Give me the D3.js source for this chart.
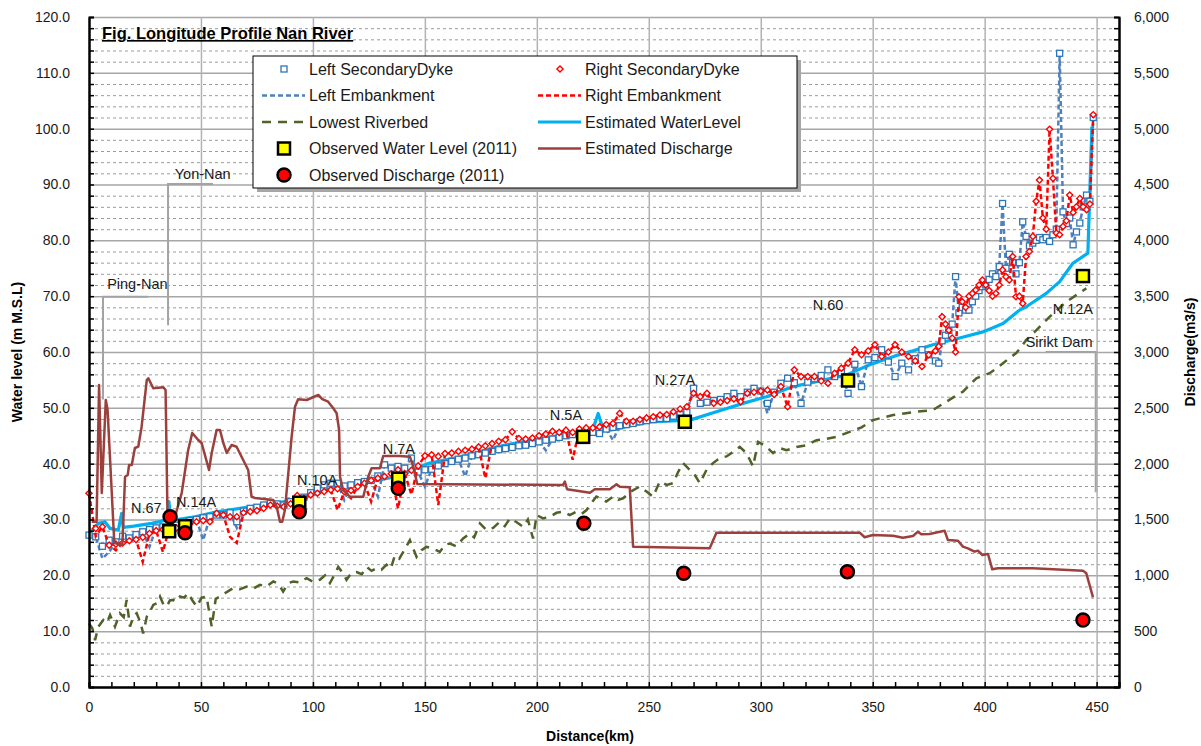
<!doctype html>
<html>
<head>
<meta charset="utf-8">
<script src="https://cdn.jsdelivr.net/npm/d3@7/dist/d3.min.js"></script>
<style>
  body { margin: 0; background: #fff; }
  svg { font-family: "Liberation Sans", Arial, sans-serif; }
  .tick text { fill: #1a1a1a; }
</style>
</head>
<body>
<svg width="1201" height="746"></svg>
<script>
// ---- data (km, m M.S.L / m3/s) ----
var dykeKm = [0,3,6,9,12,15,18,21,24,27,30,33,36,39,42,45,48,51,54,57,60,63,66,69,72,75,78,81,84,87,90,93,96,99,
  102,105,108,111,114,117,120,123,126,129,132,135,138,141,144,147,150,153,156,159,162,165,168,171,174,177,180,183,186,189,
  192,195,198,201,204,207,210,213,216,219,222,225,228,231,234,237,240,243,246,249,252,255,258,261,264,267,270,273,276,279,
  282,285,288,291,294,297,300,303,306,309,312,315,318,321,324,327,330,333,336,339,342,345,348,351,354,357,360,363,366,369,
  372,375,378,379.5,381,382.5,384,385.5,387,388.5,390,391.5,393,394.5,396,397.5,399,400.5,402,403.5,405,406.5,408,409.5,
  411,412.5,414,415.5,417,418.5,420,421.5,423,424.5,426,427.5,429,430.5,432,433.5,435,436.5,438,439.5,441,442.5,444,445.5,447,448.5];

var leftDyke = [27.2,26.9,25.2,26.3,26.0,27.0,26.7,27.3,27.8,28.2,28.5,28.7,29.0,29.0,29.0,29.8,30.0,30.3,30.5,30.8,30.8,31.2,29.6,31.5,
  32.0,32.2,32.6,32.9,32.8,32.6,33.2,33.5,34.0,34.8,35.6,36.2,36.5,36.5,36.0,36.2,36.6,36.8,37.0,37.8,39.8,39.2,39.5,39.2,41.0,38.5,
  38.9,39.0,39.6,40.0,40.4,40.8,41.0,41.4,41.6,41.9,42.2,42.5,42.7,42.9,43.2,43.3,43.6,43.9,44.2,44.4,44.7,45.0,45.2,45.3,45.4,45.6,
  45.4,46.2,46.5,46.8,47.0,47.2,47.5,47.7,47.9,48.1,48.1,48.5,48.8,49.2,53.5,50.8,51.0,51.3,51.5,52.0,52.6,52.0,52.8,53.5,53.0,50.8,
  52.8,54.4,55.3,54.5,50.8,54.6,55.2,55.8,56.8,55.6,56.3,52.6,57.8,53.8,58.6,59.0,60.4,58.2,55.6,58.0,56.8,58.8,60.4,59.5,58.4,
  58.0,62.0,63.0,63.9,65.0,73.5,67.0,68.0,67.5,67.5,69.0,70.0,71.0,71.7,72.0,73.0,74.0,73.5,75.3,86.6,75.0,77.5,76.0,74.0,76.0,
  83.3,80.7,79.0,79.5,80.0,80.5,80.1,80.5,79.8,81.0,82.0,113.5,85.1,83.0,84.0,79.2,81.5,83.1,86.0,88.1,87.0,102.0];

var rightDyke = [34.7,28.4,28.7,25.4,25.6,25.8,26.2,26.4,26.8,27.5,28.0,28.2,28.7,28.5,29.0,29.2,29.6,29.8,29.6,31.1,30.8,30.5,30.5,31.2,
  31.4,31.6,32.0,32.6,32.4,32.3,32.8,34.3,33.8,34.4,34.7,35.0,35.3,35.5,35.0,35.2,35.9,36.5,37.0,37.4,37.7,38.2,38.9,38.2,38.8,39.6,
  41.4,41.6,41.3,41.8,41.9,42.2,42.4,42.6,43.0,43.2,43.6,44.0,44.3,45.7,44.5,44.4,44.6,45.0,45.3,45.8,45.6,46.0,45.6,46.2,46.4,46.4,
  46.6,47.0,47.2,49.0,47.6,47.6,47.9,48.2,48.4,48.7,48.8,49.3,49.8,50.2,52.6,52.0,52.6,50.8,51.0,51.3,51.6,51.1,52.6,52.8,53.0,53.2,
  52.4,53.8,50.2,56.8,55.6,55.6,55.6,54.8,54.4,56.2,57.1,58.0,60.4,59.5,60.2,61.3,59.2,60.0,61.3,60.0,59.2,58.4,57.4,59.5,60.2,
  61.0,66.3,65.0,63.9,62.5,60.0,69.9,69.0,68.0,70.0,70.5,71.1,72.0,72.9,72.0,71.0,70.0,70.5,72.0,74.7,73.5,72.9,77.1,69.9,70.0,
  68.7,77.1,78.0,80.7,87.0,90.8,84.0,82.0,99.9,91.1,81.3,81.0,82.5,83.5,88.1,85.0,86.0,87.5,86.0,85.5,86.5,102.5];

var leftEmb = [27.2,26.9,23.0,24.2,26.0,27.0,26.7,27.3,27.8,25.1,28.5,28.7,29.0,29.0,29.0,29.8,30.0,26.3,30.5,30.8,30.8,31.2,28.5,31.5,
  32.0,32.2,32.6,32.9,32.8,32.6,33.2,33.5,34.0,34.8,35.6,36.2,36.5,36.5,33.5,36.2,36.6,36.8,37.0,34.1,39.8,39.2,39.5,39.2,41.0,38.5,
  35.9,39.0,39.6,40.0,40.4,40.8,37.7,41.4,41.6,41.9,42.2,42.5,42.7,42.9,43.2,43.3,43.6,43.9,42.4,44.4,44.7,45.0,45.2,45.3,45.4,45.6,
  45.4,46.2,44.2,46.8,47.0,47.2,47.5,47.7,47.9,48.1,48.1,48.5,48.8,49.2,53.5,50.8,51.0,51.3,51.5,52.0,52.6,52.0,52.8,53.5,53.0,49.0,
  52.8,54.4,55.3,54.5,50.8,54.6,55.2,55.8,56.8,55.6,56.3,52.6,57.8,53.8,58.6,59.0,60.4,58.2,55.6,58.0,56.8,58.8,60.4,59.5,58.4,
  58.0,62.0,63.0,63.9,65.0,73.5,67.0,68.0,67.5,67.5,69.0,70.0,71.0,71.7,72.0,73.0,74.0,73.5,75.3,86.6,75.0,77.5,76.0,74.0,76.0,
  83.3,80.7,79.0,79.5,80.0,80.5,80.1,80.5,79.8,81.0,82.0,113.5,85.1,83.0,84.0,79.2,81.5,83.1,86.0,88.1,87.0,102.0];

var rightEmb = [34.7,27.0,28.7,25.4,24.5,25.8,26.2,26.4,22.4,27.5,28.0,24.2,28.7,28.5,29.0,29.2,29.6,29.8,29.6,31.1,30.8,26.9,25.8,31.2,
  31.4,31.6,32.0,32.6,32.4,32.3,32.8,34.3,33.8,34.4,34.7,35.0,35.3,31.7,35.0,33.8,35.9,36.5,33.2,37.4,37.7,38.2,32.0,38.2,34.5,39.6,
  41.4,41.6,32.6,41.8,41.9,42.2,42.4,42.6,43.0,37.4,43.6,44.0,44.3,45.7,44.5,44.4,44.6,45.0,45.3,45.8,45.6,46.0,40.7,46.2,46.4,46.4,
  46.6,47.0,47.2,49.0,47.6,47.6,47.9,48.2,48.4,48.7,48.8,49.3,49.8,50.2,52.6,52.0,52.6,50.8,51.0,51.3,51.6,51.1,52.6,52.8,53.0,53.2,
  52.4,53.8,50.2,56.8,55.6,55.6,55.6,54.8,54.4,56.2,57.1,58.0,60.4,59.5,60.2,61.3,59.2,60.0,61.3,60.0,59.2,58.4,57.4,59.5,60.2,
  61.0,66.3,65.0,63.9,62.5,60.0,69.9,69.0,68.0,70.0,70.5,71.1,72.0,72.9,72.0,71.0,70.0,70.5,72.0,74.7,73.5,72.9,77.1,69.9,70.0,
  68.7,77.1,78.0,80.7,87.0,90.8,84.0,82.0,99.9,91.1,81.3,81.0,82.5,83.5,88.1,85.0,86.0,87.5,86.0,85.5,86.5,102.5];

var bedKm = [0,1.5,2.7,4.2,6.4,8,9.4,11.6,13.8,15.5,16.8,18.3,20,21.3,23,24.2,25.8,27.2,28.7,30.2,31.7,33.2,34.7,36.1,37.6,39,40.6,
  42.5,44.3,46.2,48.1,50.3,52.5,54.8,56.6,58.5,61.5,64.4,67.4,70.4,73.3,76.3,79.3,82.3,84.5,86.7,89,91.2,94.2,97.2,100.2,103.1,
  105.4,107.6,109.5,111.3,113.2,115,117.3,119.5,121.8,124,126.2,128.4,130.6,132.9,134.8,136.6,138.6,140.8,143.3,146.3,148.5,
  150.7,153.7,156.7,159,161.2,164,167.1,170,172,174.6,177.5,180.5,183.5,185.7,188,191,193.9,196,198.3,199.9,202.8,205.8,208.8,
  211.7,214.7,217.7,220,222.2,224.5,226.6,228.1,231,234.1,236.3,238.5,242,246,249,251.9,254.9,258,260.9,263.1,265.3,268.3,270.5,
  272.8,275.8,278.7,281.7,284.7,287.6,290.6,293.6,296.6,298.8,302,305.5,308.5,311.5,316,320.4,324.9,329,333.8,339.7,345,350.1,
  355,359.1,364,369.5,376.9,382.9,386.5,390.3,393.5,396.3,402.2,405,408.2,411,414.1,416.5,418.6,423.1,429,436.5,445.4];
var bedWL = [11.4,10.5,8.4,10.8,12.0,11.5,12.9,10.8,13.2,12.5,15.6,10.8,12.8,13.2,11.5,9.6,12.6,13.5,14.7,15.0,16.2,14.8,14.4,15.5,15.6,
  15.3,16.2,16.0,16.8,15.5,14.4,16.0,16.2,10.8,15.8,16.2,17.0,17.7,17.5,18.0,17.6,18.3,18.0,18.9,18.5,17.1,18.6,18.9,18.7,19.5,18.8,
  19.2,20.0,18.6,20.0,21.5,20.5,19.2,20.5,20.6,20.2,21.5,20.8,21.3,21.0,21.9,21.2,23.6,23.0,24.5,26.3,23.3,24.5,25.1,24.8,24.2,25.5,
  25.7,25.2,26.6,27.5,26.8,29.3,28.1,28.5,29.6,28.8,30.2,29.5,28.7,30.0,26.6,30.8,30.2,30.5,31.2,31.4,30.8,31.4,31.0,31.7,33.0,34.1,
  33.8,33.2,34.1,33.5,33.8,35.0,35.9,35.0,34.1,36.8,36.2,36.5,38.5,40.1,38.9,38.0,36.5,38.9,40.1,41.0,41.3,42.1,43.0,41.9,39.5,43.9,
  43.2,41.9,42.8,42.4,43.0,43.3,44.2,44.4,44.8,45.7,46.5,47.8,48.3,48.7,49.0,49.3,49.6,51.1,52.0,52.9,54.2,55.3,56.2,57.0,58.0,58.9,
  59.8,61.0,62.2,63.9,66.3,69.0,71.4];

var estKm = [0,4.2,7.1,9.4,13.1,14.6,15.3,20,28,34.7,35.7,36.5,47.3,57.7,72.6,87.5,102.4,109.8,122.5,137.4,152.2,167.1,182.0,196.9,
  211.7,223.7,225.3,227.4,229.5,232.6,250.4,268.3,280.2,292.1,302.5,314.4,324.9,338.3,348.7,360,368,376.9,388.8,399.2,408.2,
  415.6,418.6,427.5,433.5,439.4,446.1,447.9];
var estWL = [27.5,29.3,29.6,28.4,28.1,31.1,28.6,28.8,29.3,29.9,33.2,29.8,30.5,31.4,32.3,33.2,34.7,35.9,36.5,37.7,40.1,41.3,43.0,44.2,
  45.1,45.4,46.5,49.0,46.3,46.0,47.5,47.8,49.3,50.8,52.0,53.8,54.7,55.9,57.7,59.3,60.2,61.3,62.5,63.6,65.1,67.5,68.1,70.5,72.6,
  75.9,77.7,100.4];

var qKm = [1.2,3.4,4.5,5.7,7.5,8.3,11.3,14.9,16.1,17.3,17.9,19.1,20.5,22.0,23.5,25.8,26.5,28.7,33.2,34.2,35.1,36.2,37.6,41.4,44.3,
  46.1,48.8,50.3,53.6,54.8,57.0,58.5,60.0,61.5,63.7,65.9,71.1,72.6,74.1,82.3,83.8,85.3,86.3,87.5,90.5,92.0,93.4,97.2,102.4,104.2,
  106.8,109.1,110.6,111.7,112.1,113.5,116.5,122.5,124.7,126.2,129.9,131.4,138.8,143.3,144.8,146.6,211.7,212.5,213.5,223.7,225.9,
  232.6,235.6,237.1,241.5,243.0,277.2,280.2,344.2,346.4,350.1,359.1,363.5,368.0,370.2,371.7,375.4,382.1,383.6,388.1,390.3,392.5,
  395.5,397.0,399.0,401.5,403.4,405.9,421.6,443.9,445.4,448.4];
var qEst = [1480,1480,2705,1737,2570,2481,1290,1272,1883,1899,1988,1988,2140,2152,2331,2749,2765,2675,2684,2660,1480,1436,1469,1737,
  2123,2275,2212,2185,1943,2096,2302,2302,2185,2096,2167,2152,1943,1704,1693,1675,1615,1480,1480,1585,2242,2510,2577,2570,2615,2579,
  2555,2496,2451,2302,1883,1764,1704,1704,1883,1959,1959,2069,2069,2063,1973,1818,1809,1839,1771,1740,1771,1771,1815,1794,1789,
  1257,1242,1382,1382,1341,1361,1355,1337,1352,1391,1368,1370,1400,1316,1310,1257,1242,1212,1221,1182,1191,1054,1063,1063,1042,1018,803];

var obsKm = [35.8,42.9,93.9,138.1,220.7,266.1,339.0,443.9];
var obsWL = [27.9,28.8,33.0,37.3,44.8,47.5,54.9,73.6];
var obsQKm = [36.2,42.9,93.9,138.1,221.0,265.6,338.7,443.9];
var obsQ = [1525,1382,1570,1779,1466,1018,1033,600];

var stations = ["N.67","N.14A","N.10A","N.7A","N.5A","N.27A","N.60","N.12A"];
var yTicks = d3.range(0, 121, 10);
var qTicks = d3.range(0, 6001, 500);
var xTicks = d3.range(0, 451, 50);

// ---- layout ----
var svg = d3.select("svg");
var padL = 89, padR = 1119, padT = 17, padB = 687;
var x = d3.scaleLinear().domain([0, 460]).range([padL, padR]);
var y = d3.scaleLinear().domain([0, 120]).range([padB, padT]);
var y2 = d3.scaleLinear().domain([0, 6000]).range([padB, padT]);

// grid
svg.append("g").attr("transform", "translate(" + padL + ",0)")
  .call(d3.axisLeft(y).tickValues(d3.range(0, 121, 2).filter(function(d){ return d % 10; }))
    .tickSize(-(padR - padL)).tickFormat(""))
  .call(function(g){ g.select(".domain").remove();
    g.selectAll("line").attr("stroke", "#9c9c9c").attr("stroke-width", 1).attr("stroke-dasharray", "3,3"); });
svg.append("g").attr("transform", "translate(" + padL + ",0)")
  .call(d3.axisLeft(y).tickValues(yTicks).tickSize(-(padR - padL)).tickFormat(""))
  .call(function(g){ g.select(".domain").remove();
    g.selectAll("line").attr("stroke", "#a6a6a6").attr("stroke-width", 1.5); });
svg.append("g").attr("transform", "translate(0," + padB + ")")
  .call(d3.axisBottom(x).tickValues(xTicks.slice(1)).tickSize(-(padB - padT)).tickFormat(""))
  .call(function(g){ g.select(".domain").remove();
    g.selectAll("line").attr("stroke", "#b2b2b2").attr("stroke-width", 1.5); });

// annotation leaders (grey)
var leaders = [
  [[6.25, 51.5], [6.25, 69.9], [26.3, 69.9]],
  [[35.3, 64.8], [35.3, 90.1], [55.4, 90.1]],
  [[427.2, 60.0], [449.6, 60.0], [449.6, 34.9]]
];
var line = d3.line().x(function(d){ return x(d[0]); }).y(function(d){ return y(d[1]); });
svg.append("g").selectAll("path").data(leaders).enter().append("path")
  .attr("d", line).attr("fill", "none").attr("stroke", "#a3a3a3").attr("stroke-width", 2);

function pairs(xs, ys) { return xs.map(function(k, i){ return [k, ys[i]]; }); }

var lineQ = d3.line().x(function(d){ return x(d[0]); }).y(function(d){ return y2(d[1]); });

// riverbed
svg.append("path").attr("d", line(pairs(bedKm, bedWL)))
  .attr("fill", "none").attr("stroke", "#4f6228").attr("stroke-width", 2.5).attr("stroke-dasharray", "9,7");

// estimated water level
svg.append("path").attr("d", line(pairs(estKm, estWL)))
  .attr("fill", "none").attr("stroke", "#00b0f0").attr("stroke-width", 3.2).attr("stroke-linejoin", "round");

// left embankment + secondary dyke
svg.append("path").attr("d", line(pairs(dykeKm, leftEmb)))
  .attr("fill", "none").attr("stroke", "#4f81bd").attr("stroke-width", 2.5).attr("stroke-dasharray", "5,3");
svg.append("g").selectAll("rect").data(pairs(dykeKm, leftDyke)).enter().append("rect")
  .attr("x", function(d){ return x(d[0]) - 3; }).attr("y", function(d){ return y(d[1]) - 3; })
  .attr("width", 6).attr("height", 6)
  .attr("fill", "#fff").attr("stroke", "#2e75b6").attr("stroke-width", 1.3);

// right embankment + secondary dyke (square turned 45 deg)
svg.append("path").attr("d", line(pairs(dykeKm, rightEmb)))
  .attr("fill", "none").attr("stroke", "#ff0000").attr("stroke-width", 2.5).attr("stroke-dasharray", "5,3");
var diamond = d3.symbol().type(d3.symbolSquare).size(19);
svg.append("g").selectAll("path").data(pairs(dykeKm, rightDyke)).enter().append("path")
  .attr("d", diamond)
  .attr("transform", function(d){ return "translate(" + x(d[0]) + "," + y(d[1]) + ") rotate(45)"; })
  .attr("fill", "#fff").attr("stroke", "#ff0000").attr("stroke-width", 1.4);

// estimated discharge (right axis)
svg.append("path").attr("d", lineQ(pairs(qKm, qEst)))
  .attr("fill", "none").attr("stroke", "#9b403d").attr("stroke-width", 2.5).attr("stroke-linejoin", "round");

// observed
svg.append("g").selectAll("rect").data(pairs(obsKm, obsWL)).enter().append("rect")
  .attr("x", function(d){ return x(d[0]) - 6; }).attr("y", function(d){ return y(d[1]) - 6; })
  .attr("width", 12).attr("height", 12)
  .attr("fill", "#ffff00").attr("stroke", "#000").attr("stroke-width", 2.5);
svg.append("g").selectAll("circle").data(pairs(obsQKm, obsQ)).enter().append("circle")
  .attr("cx", function(d){ return x(d[0]); }).attr("cy", function(d){ return y2(d[1]); }).attr("r", 6.5)
  .attr("fill", "#ff0000").attr("stroke", "#000").attr("stroke-width", 2.5);

// axes
function blackTicks(g) { g.selectAll(".tick line").attr("stroke", "#000").attr("stroke-width", 1.5); }
svg.append("g").attr("transform", "translate(" + padL + ",0)")
  .call(d3.axisLeft(y).tickValues(yTicks).tickSize(0).tickPadding(19).tickFormat(d3.format(".1f")));
svg.append("g").attr("transform", "translate(" + padL + ",0)")
  .call(d3.axisRight(y).tickValues(d3.range(0, 121, 2)).tickSize(5).tickFormat("")).call(blackTicks);
svg.append("g").attr("transform", "translate(" + padR + ",0)")
  .call(d3.axisRight(y2).tickValues(qTicks).tickSize(0).tickPadding(15).tickFormat(d3.format(",")));
svg.append("g").attr("transform", "translate(" + padR + ",0)")
  .call(d3.axisLeft(y2).tickValues(d3.range(0, 6001, 100)).tickSize(5).tickFormat("")).call(blackTicks);
svg.append("g").attr("transform", "translate(0," + padB + ")")
  .call(d3.axisBottom(x).tickValues(xTicks).tickSize(0).tickPadding(15));
svg.append("g").attr("transform", "translate(0," + padB + ")")
  .call(d3.axisTop(x).tickValues(d3.range(0, 461, 10)).tickSize(5).tickFormat("")).call(blackTicks);
svg.selectAll(".tick text").attr("font-size", 14).attr("font-family", "Liberation Sans, Arial, sans-serif");
svg.selectAll(".domain").attr("stroke", "#000").attr("stroke-width", 2);

// axis titles
svg.append("text").attr("transform", "translate(22,352) rotate(-90)").attr("text-anchor", "middle")
  .attr("font-size", 14).attr("font-weight", "bold").text("Water level (m M.S.L)");
svg.append("text").attr("transform", "translate(1195,352) rotate(-90)").attr("text-anchor", "middle")
  .attr("font-size", 14).attr("font-weight", "bold").text("Discharge(m3/s)");
svg.append("text").attr("x", 590).attr("y", 741).attr("text-anchor", "middle")
  .attr("font-size", 14).attr("font-weight", "bold").text("Distance(km)");

// title
svg.append("text").attr("x", 102).attr("y", 39).attr("font-size", 16.5).attr("font-weight", "bold")
  .attr("text-decoration", "underline").text("Fig. Longitude Profile Nan River");

// station labels
var stationAt = [[18.75, 31.2], [38.8, 32.2], [92.9, 36.2], [131.2, 41.7], [205.8, 47.8], [252.7, 54.1], [323.2, 67.5], [430.4, 66.8]];
svg.append("g").selectAll("text").data(stations).enter().append("text")
  .attr("x", function(d, i){ return x(stationAt[i][0]); }).attr("y", function(d, i){ return y(stationAt[i][1]); })
  .attr("font-size", 14.5).attr("fill", "#1a1a1a").text(function(d){ return d; });
var placeNames = ["Ping-Nan", "Yon-Nan", "Sirikt Dam"];
var placeAt = [[8.1, 71.3], [38.3, 91.0], [418.3, 60.9]];
svg.append("g").selectAll("text").data(placeNames).enter().append("text")
  .attr("x", function(d, i){ return x(placeAt[i][0]); }).attr("y", function(d, i){ return y(placeAt[i][1]); })
  .attr("font-size", 14.5).attr("fill", "#1a1a1a").text(function(d){ return d; });

// legend
var lg = svg.append("g");
lg.append("rect").attr("x", 257).attr("y", 60).attr("width", 544).attr("height", 132).attr("fill", "#a6a6a6");
lg.append("rect").attr("x", 253).attr("y", 56).attr("width", 544).attr("height", 132)
  .attr("fill", "#fff").attr("stroke", "#000").attr("stroke-width", 1);
var legendItems = [
  {t: "Left SecondaryDyke", c: 0, r: 0, k: "sq"},
  {t: "Left Embankment", c: 0, r: 1, k: "dash", s: "#4f81bd", da: "5,3"},
  {t: "Lowest Riverbed", c: 0, r: 2, k: "dash", s: "#4f6228", da: "9,7"},
  {t: "Observed Water Level (2011)", c: 0, r: 3, k: "obs"},
  {t: "Observed Discharge (2011)", c: 0, r: 4, k: "obsq"},
  {t: "Right SecondaryDyke", c: 1, r: 0, k: "dia"},
  {t: "Right Embankment", c: 1, r: 1, k: "dash", s: "#ff0000", da: "5,3"},
  {t: "Estimated WaterLevel", c: 1, r: 2, k: "dash", s: "#00b0f0", da: null, w: 3.2},
  {t: "Estimated Discharge", c: 1, r: 3, k: "dash", s: "#9b403d", da: null}
];
var colX = [262, 538], rowY = [69, 95.5, 122, 148.5, 175];
legendItems.forEach(function(d){
  var x0 = colX[d.c], yy = rowY[d.r], cx = x0 + 22;
  var g = lg.append("g");
  if (d.k === "dash") {
    g.append("line").attr("x1", x0).attr("x2", x0 + 43).attr("y1", yy).attr("y2", yy)
      .attr("stroke", d.s).attr("stroke-width", d.w || 2.5).attr("stroke-dasharray", d.da);
  } else if (d.k === "sq") {
    g.append("rect").attr("x", cx - 3).attr("y", yy - 3).attr("width", 6).attr("height", 6)
      .attr("fill", "#fff").attr("stroke", "#2e75b6").attr("stroke-width", 1.3);
  } else if (d.k === "dia") {
    g.append("path").attr("d", diamond).attr("transform", "translate(" + cx + "," + yy + ") rotate(45)")
      .attr("fill", "#fff").attr("stroke", "#ff0000").attr("stroke-width", 1.4);
  } else if (d.k === "obs") {
    g.append("rect").attr("x", cx - 6).attr("y", yy - 6).attr("width", 12).attr("height", 12)
      .attr("fill", "#ffff00").attr("stroke", "#000").attr("stroke-width", 2.5);
  } else {
    g.append("circle").attr("cx", cx).attr("cy", yy).attr("r", 6.5)
      .attr("fill", "#ff0000").attr("stroke", "#000").attr("stroke-width", 2.5);
  }
  g.append("text").attr("x", x0 + 47).attr("y", yy + 5.5).attr("font-size", 16).attr("fill", "#1a1a1a").text(d.t);
});
</script>
</body>
</html>
